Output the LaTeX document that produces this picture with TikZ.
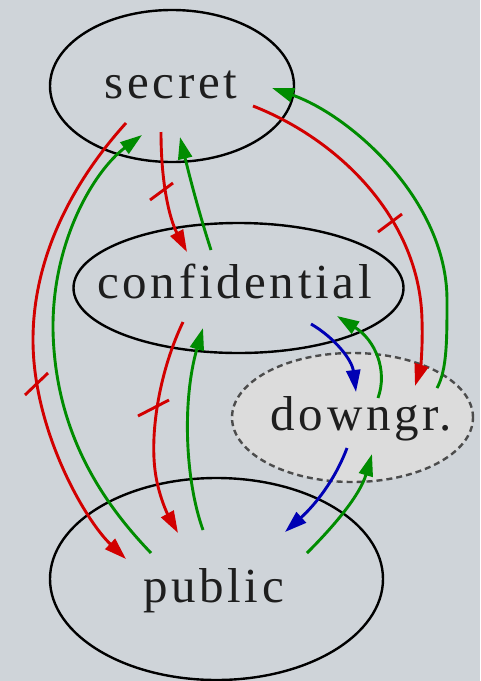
\documentclass[tikz,border=0pt]{standalone}
\usepackage{fontspec}
\setmainfont{Liberation Serif}[LetterSpace=7.5]
\usetikzlibrary{shapes.geometric,arrows.meta,calc}
\definecolor{bgc}{RGB}{207,212,217}
\definecolor{dgfill}{RGB}{220,220,220}
\definecolor{ered}{RGB}{210,0,0}
\definecolor{egreen}{RGB}{0,140,0}
\definecolor{eblue}{RGB}{0,0,180}
\definecolor{txt}{RGB}{30,30,30}
\begin{document}
\begin{tikzpicture}[x=1pt,y=-1pt,
  levelbox/.style={ellipse, draw=black, line width=2.4pt, inner sep=0pt},
  dgbox/.style={levelbox, draw=black!70, fill=dgfill, dash pattern=on 6pt off 4pt},
  lbl/.style={anchor=base, inner sep=0pt, text=txt, font=\fontsize{49pt}{55pt}\selectfont},
  flow/.style={line width=2.9pt, -{Triangle[length=22pt,width=14pt]}},
  rflow/.style={flow, ered},
  gflow/.style={flow, egreen},
  bflow/.style={flow, eblue},
  tickmark/.style={line width=2.9pt, ered}
]
\fill[bgc] (0,0) rectangle (480,681);
\useasboundingbox (0,0) rectangle (480,681);

% nodes
\node[levelbox, minimum width=244pt, minimum height=152pt] (secret) at (172,86) {};
\node[levelbox, minimum width=330pt, minimum height=130pt] (confidential) at (238.5,288) {};
\node[dgbox, minimum width=241pt, minimum height=129pt] (downgr) at (352.5,417.5) {};
\node[levelbox, minimum width=333pt, minimum height=202pt] (public) at (216.5,579) {};

\node[lbl] (secret-t) at (171,98) {secret};
\node[lbl] (confidential-t) at (234.5,298) {confidential};
\node[lbl] (downgr-t) at (361.5,430) {downgr.};
\node[lbl] (public-t) at (213.5,602) {public};

% secret <-> public
\draw[rflow] ($(secret.center)+(-46,37)$) .. controls (70,185) and (33,260) .. (33,340)
  .. controls (33,430) and (85,520) .. ($(public.center)+(-90.5,-20)$);
\draw[gflow] ($(public.center)+(-65.5,-26)$) .. controls (100,500) and (55,430) .. (53,330)
  .. controls (52,240) and (95,170) .. ($(secret.center)+(-30,49)$);

% secret <-> confidential
\draw[rflow] ($(secret.center)+(-11,46)$) .. controls (161,185) and (170,220) .. ($(confidential.center)+(-51.5,-36)$);
\draw[gflow] ($(confidential.center)+(-27.5,-38)$) .. controls (198,210) and (188,170) .. ($(secret.center)+(8,51)$);

% secret <-> downgr
\draw[rflow] ($(secret.center)+(81,20)$) .. controls (340,140) and (420,220) .. (422,320)
  .. controls (423,350) and (420,370) .. ($(downgr.center)+(62.5,-31.5)$);
\draw[gflow] ($(downgr.center)+(84.5,-29.5)$) .. controls (447,370) and (447,340) .. (447,300)
  .. controls (447,200) and (350,115) .. ($(secret.center)+(100,2)$);

% confidential <-> public
\draw[rflow] ($(confidential.center)+(-55.5,34)$) .. controls (160,370) and (150,430) .. (155,470)
  .. controls (158,495) and (168,515) .. ($(public.center)+(-38.5,-46)$);
\draw[gflow] ($(public.center)+(-13.5,-49)$) .. controls (185,480) and (182,400) .. ($(confidential.center)+(-35.5,40)$);

% confidential <-> downgr
\draw[bflow] ($(confidential.center)+(72.5,36)$) .. controls (335,338) and (352,360) .. ($(downgr.center)+(3.5,-25.5)$);
\draw[gflow] ($(downgr.center)+(25.5,-19.5)$) .. controls (388,370) and (375,340) .. ($(confidential.center)+(98.5,28)$);

% downgr <-> public
\draw[bflow] ($(downgr.center)+(-5.5,30.5)$) .. controls (335,480) and (315,505) .. ($(public.center)+(68.5,-47)$);
\draw[gflow] ($(public.center)+(90.5,-26)$) .. controls (335,525) and (360,495) .. ($(downgr.center)+(19.5,36.5)$);

% tick marks on the red flows
\coordinate (x1) at (36.5,384);
\coordinate (x2) at (161.5,191.5);
\coordinate (x3) at (390,223);
\coordinate (x4) at (153.5,408);
\draw[tickmark] ($(x1)+(-11.5,11)$) -- ($(x1)+(11.5,-11)$);
\draw[tickmark] ($(x2)+(-11.5,8.5)$) -- ($(x2)+(11.5,-8.5)$);
\draw[tickmark] ($(x3)+(-12,9)$) -- ($(x3)+(12,-9)$);
\draw[tickmark] ($(x4)+(-15.5,8)$) -- ($(x4)+(15.5,-8)$);
\end{tikzpicture}
\end{document}
